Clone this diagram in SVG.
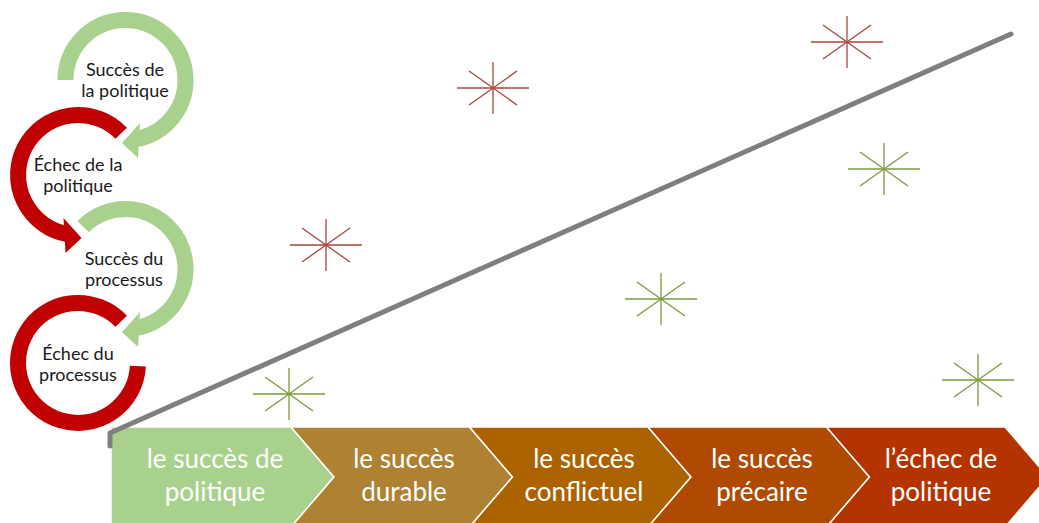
<svg xmlns="http://www.w3.org/2000/svg" xmlns:xlink="http://www.w3.org/1999/xlink" width="1039" height="523" viewBox="0 0 1039 523">
  <style>
    .ring { fill: none; stroke-width: 16; stroke-linecap: butt; }
    .green { stroke: #a9d18e; }
    .red { stroke: #c00000; }
    .head-green { fill: #a9d18e; }
    .head-red { fill: #c00000; }
    .cycle-label { font-family: Lato, "Liberation Sans", sans-serif; font-size: 18px; fill: #1a1a1a; text-anchor: middle; }
    .step { stroke: #ffffff; stroke-width: 1.5; stroke-linejoin: miter; }
    .step-label { font-family: Lato, "Liberation Sans", sans-serif; font-size: 26px; fill: #ffffff; text-anchor: middle; }
    .trend { fill: none; stroke: #7f7f7f; stroke-width: 5; stroke-linecap: round; stroke-linejoin: round; }
    .spark line { stroke: currentColor; stroke-width: 1.3; }
    .spark-red { color: #a6463f; }
    .spark-green { color: #7b9a3e; }
  </style>
  <defs>
    <!-- eight-ray spark, centred on the origin -->
    <g id="spark" class="spark">
      <line x1="-36" y1="0" x2="36" y2="0"/>
      <line x1="0" y1="-26" x2="0" y2="26"/>
      <line x1="-24" y1="-17" x2="24" y2="17"/>
      <line x1="-24" y1="17" x2="24" y2="-17"/>
    </g>
  </defs>

  <!-- circular arrow cycle -->
  <g id="cycle-succes-politique">
    <path class="ring green" d="M65.5,80 A60,60 0 1 1 135.9,139.1"/>
    <polygon class="head-green" points="140,123 138,158 122,143"/>
    <text class="cycle-label" x="125" y="76">Succès de</text>
    <text class="cycle-label" x="125" y="97">la politique</text>
  </g>
  <g id="cycle-echec-politique">
    <path class="ring red" d="M121.2,133.3 A60,60 0 1 0 67.6,234.1"/>
    <polygon class="head-red" points="63.5,218 65.5,253 81.5,238"/>
    <text class="cycle-label" x="78" y="171">Échec de la</text>
    <text class="cycle-label" x="78" y="192">politique</text>
  </g>
  <g id="cycle-succes-processus">
    <path class="ring green" d="M83.1,226.6 A60,60 0 1 1 135.9,328.1"/>
    <polygon class="head-green" points="140,312 138,347 122,332"/>
    <text class="cycle-label" x="124" y="265">Succès du</text>
    <text class="cycle-label" x="124" y="286">processus</text>
  </g>
  <g id="cycle-echec-processus">
    <path class="ring red" d="M121.2,321.3 A60,60 0 1 0 137.9,366.1"/>
    <text class="cycle-label" x="78" y="360">Échec du</text>
    <text class="cycle-label" x="78" y="381">processus</text>
  </g>

  <!-- scattered sparks -->
  <g id="sparks">
    <use xlink:href="#spark" href="#spark" class="spark-red" x="493" y="88"/>
    <use xlink:href="#spark" href="#spark" class="spark-red" x="847" y="42"/>
    <use xlink:href="#spark" href="#spark" class="spark-red" x="326" y="245"/>
    <use xlink:href="#spark" href="#spark" class="spark-green" x="289" y="394"/>
    <use xlink:href="#spark" href="#spark" class="spark-green" x="884" y="169"/>
    <use xlink:href="#spark" href="#spark" class="spark-green" x="661" y="299"/>
    <use xlink:href="#spark" href="#spark" class="spark-green" x="978" y="380"/>
  </g>

  <!-- chevron scale -->
  <g id="step-succes-politique">
    <path class="step" fill="#a9d18e" d="M111,427 H291 L334,477 L291,527 H111 Z"/>
    <text class="step-label" x="215" y="468">le succès de</text>
    <text class="step-label" x="215" y="501">politique</text>
  </g>
  <g id="step-succes-durable">
    <path class="step" fill="#ae8133" d="M291,427 H469.5 L512.5,477 L469.5,527 H291 L334,477 Z"/>
    <text class="step-label" x="404" y="468">le succès</text>
    <text class="step-label" x="404" y="501">durable</text>
  </g>
  <g id="step-succes-conflictuel">
    <path class="step" fill="#ad6200" d="M469.5,427 H648 L691,477 L648,527 H469.5 L512.5,477 Z"/>
    <text class="step-label" x="584" y="468">le succès</text>
    <text class="step-label" x="584" y="501">conflictuel</text>
  </g>
  <g id="step-succes-precaire">
    <path class="step" fill="#b04a02" d="M648,427 H826.5 L869.5,477 L826.5,527 H648 L691,477 Z"/>
    <text class="step-label" x="762" y="468">le succès</text>
    <text class="step-label" x="762" y="501">précaire</text>
  </g>
  <g id="step-echec-politique">
    <path class="step" fill="#b43400" d="M826.5,427 H1005 L1048,477 L1005,527 H826.5 L869.5,477 Z"/>
    <text class="step-label" x="941" y="468">l’échec de</text>
    <text class="step-label" x="941" y="501">politique</text>
  </g>

  <!-- connectors: rising trend line -->
  <g id="connectors">
    <path class="trend" d="M110,446 V433 L1011,34"/>
  </g>
</svg>
